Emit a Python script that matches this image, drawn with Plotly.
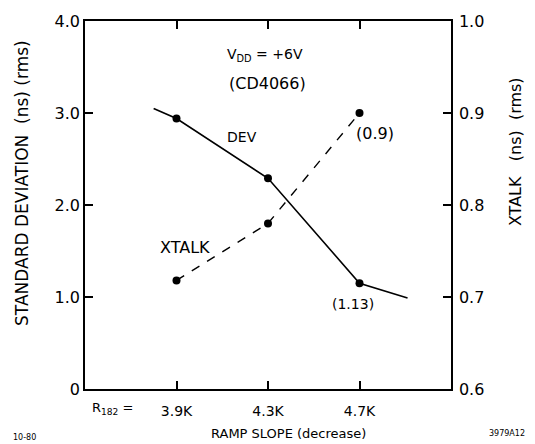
import plotly.graph_objects as go

# ---- data ----
r182_values = [3.9, 4.3, 4.7]
r182_labels = ["3.9K", "4.3K", "4.7K"]

dev_line_x = [3.80, 3.9, 4.3, 4.7, 4.91]
dev_line_y = [3.05, 2.94, 2.29, 1.15, 0.99]
dev_pts_x = [3.9, 4.3, 4.7]
dev_pts_y = [2.94, 2.29, 1.15]

xtalk_x = [3.9, 4.3, 4.7]
xtalk_y = [0.718, 0.78, 0.90]

left_ticks = [0, 1, 2, 3, 4]
left_ticklabels = ["0", "1.0", "2.0", "3.0", "4.0"]
right_ticks = [0.6, 0.7, 0.8, 0.9, 1.0]
right_ticklabels = ["0.6", "0.7", "0.8", "0.9", "1.0"]

FONT = "DejaVu Sans"

fig = go.Figure()
fig.add_trace(go.Scatter(
    x=dev_line_x, y=dev_line_y, mode="lines",
    line=dict(color="black", width=1.6),
    name="DEV", showlegend=False, yaxis="y", hoverinfo="skip"))
fig.add_trace(go.Scatter(
    x=dev_pts_x, y=dev_pts_y, mode="markers",
    marker=dict(color="black", size=8),
    name="DEV", showlegend=False, yaxis="y"))
fig.add_trace(go.Scatter(
    x=xtalk_x, y=xtalk_y, mode="lines+markers",
    line=dict(color="black", width=1.4, dash="dash"),
    marker=dict(color="black", size=8),
    name="XTALK", showlegend=False, yaxis="y2"))

axis_common = dict(showgrid=False, zeroline=False, showline=True,
                   linecolor="black", linewidth=1.5, ticks="inside",
                   ticklen=8, tickcolor="black", tickwidth=1.5,
                   automargin=False)

fig.update_layout(
    width=527, height=436,
    margin=dict(l=77, r=84, t=13, b=55),
    paper_bgcolor="white", plot_bgcolor="white",
    font=dict(family=FONT, color="black"),
    xaxis=dict(**axis_common, range=[3.5, 5.1], tickmode="array",
               tickvals=r182_values, ticktext=r182_labels, mirror="ticks",
               ticklabelstandoff=8,
               tickfont=dict(family=FONT, size=14, color="black")),
    yaxis=dict(**axis_common, range=[0, 4], tickmode="array",
               tickvals=left_ticks, ticktext=left_ticklabels,
               tickfont=dict(family=FONT, size=16, color="black")),
    yaxis2=dict(**axis_common, range=[0.6, 1.0], overlaying="y", side="right",
                anchor="x", tickmode="array", tickvals=right_ticks,
                ticktext=right_ticklabels, ticklabelstandoff=3,
                tickfont=dict(family=FONT, size=16, color="black")),
)

def f(size):
    return dict(family=FONT, size=size, color="black")

annotations = [
    dict(x=4.287, y=3.63, text="V<sub>DD</sub> = +6V", xref="x", yref="y", font=f(14)),
    dict(x=4.296, y=3.326, text="(CD4066)", xref="x", yref="y", font=f(16)),
    dict(x=4.186, y=2.74, text="DEV", xref="x", yref="y", font=f(14)),
    dict(x=4.768, y=2.78, text="(0.9)", xref="x", yref="y", font=f(16)),
    dict(x=3.937, y=1.533, text="XTALK", xref="x", yref="y", font=f(16)),
    dict(x=4.672, y=0.924, text="(1.13)", xref="x", yref="y", font=f(14)),
    dict(x=0.074, y=-0.052, text="R<sub>182</sub> =", xref="paper", yref="paper", font=f(13)),
    dict(x=0.555, y=-0.122, text="RAMP SLOPE (decrease)", xref="paper", yref="paper", font=f(13)),
    dict(x=1.153, y=-0.12, text="3979A12", xref="paper", yref="paper", font=f(8)),
    dict(x=-0.164, y=-0.133, text="10-80", xref="paper", yref="paper", font=f(8)),
    dict(x=-0.172, y=0.56, text="STANDARD DEVIATION  (ns) (rms)", xref="paper",
         yref="paper", font=f(17), textangle=-90),
    dict(x=1.175, y=0.644, text="XTALK   (ns)  (rms)", xref="paper",
         yref="paper", font=f(16), textangle=-90),
]
for a in annotations:
    fig.add_annotation(**a, showarrow=False, xanchor="center", yanchor="middle")

fig.write_html("out.html")
